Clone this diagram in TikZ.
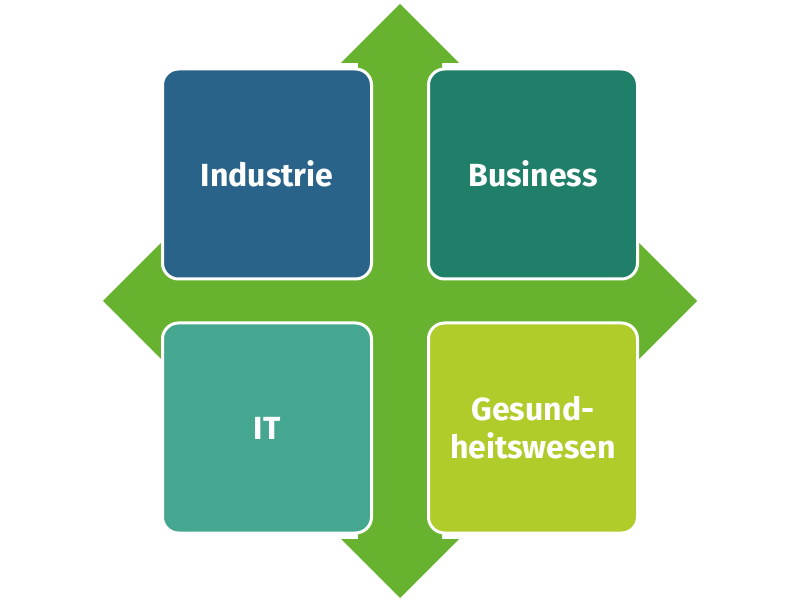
\documentclass[tikz,border=0pt]{standalone}
\usepackage{fontspec}
\setsansfont{Fira Sans}
\usetikzlibrary{positioning}
\definecolor{arrowgreen}{HTML}{67B22E}
\definecolor{industrieblue}{HTML}{296389}
\definecolor{businessgreen}{HTML}{1F7F69}
\definecolor{itgreen}{HTML}{45A78F}
\definecolor{healthlime}{HTML}{AFCC2B}
\begin{document}
\begin{tikzpicture}
[x=1pt, y=-1pt,
% STYLES
% The sector style is used to draw the four rounded squares
sector/.style={rectangle, rounded corners=16pt, draw=white, line width=3pt, minimum width=209pt, minimum height=210pt, text width=195pt, align=center, text=white, font=\sffamily\bfseries\fontsize{32}{38}\selectfont}]

\useasboundingbox (0,0) rectangle (801,601);
\coordinate (middle) at (400,301);

% Draw the cross arrow
\foreach \a in {0,90,180,270}
  \fill[arrowgreen, shift={(middle)}, rotate=\a] (-42,0) -- (-42,-238) -- (-59,-238) -- (0,-297) -- (59,-238) -- (42,-238) -- (42,0) -- cycle;

% Draw sectors
\node [sector, fill=industrieblue, above left=20.5pt and 27pt of middle] (industrie) {Industrie};
\node [sector, fill=businessgreen, above right=20.5pt and 27pt of middle] (business) {Business};
\node [sector, fill=itgreen, below left=20.5pt and 27pt of middle] (it) {IT};
\node [sector, fill=healthlime, below right=20.5pt and 27pt of middle] (health) {Gesund-\\heitswesen};

\end{tikzpicture}
\end{document}
